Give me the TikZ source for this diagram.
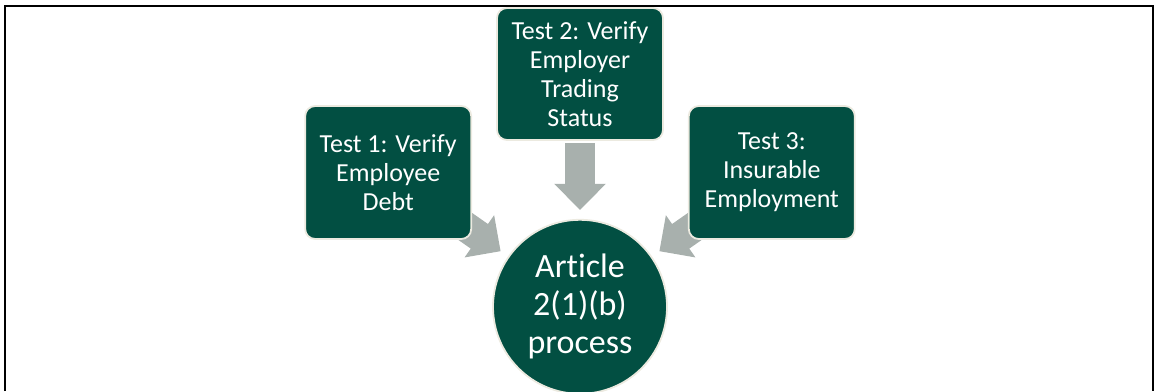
\documentclass[tikz,border=0pt]{standalone}
\usepackage{fontspec}
\setmainfont{Carlito}[Ligatures=NoCommon]
\usetikzlibrary{arrows.meta,positioning,backgrounds}
\definecolor{testgreen}{RGB}{2,79,66}
\definecolor{rimbeige}{RGB}{236,234,224}
\definecolor{flowgray}{RGB}{168,176,173}

\begin{document}
\begin{tikzpicture}[
    x=1pt, y=-1pt,
    testbox/.style={
      rectangle, rounded corners=10pt, fill=testgreen, draw=rimbeige,
      line width=1.8pt, minimum width=166pt, minimum height=133pt,
      align=center, text=white, font=\fontsize{26}{29}\selectfont,
      inner sep=2pt
    },
    hubcircle/.style={
      circle, fill=testgreen, draw=rimbeige, line width=1.8pt,
      minimum size=174pt, align=center, text=white,
      font=\fontsize{34}{38}\selectfont, inner sep=0pt
    },
    blockarr/.style={
      -{Triangle[length=26pt,width=50pt]}, line width=30pt,
      color=flowgray
    },
    frame/.style={line width=2pt, black},
  ]
  \useasboundingbox (0,0) rectangle (1155,391);

  % Outer frame
  \draw[frame] (5,391) |- (1153,6) -- (1153,391);

  % --- Tests ---
  \node[testbox, minimum height=132pt] (test2) at (580,74)
    {Test 2: Verify\\Employer\\Trading\\Status};
  \node[testbox, below left=98pt and 24pt of test2.north west,
        anchor=north east] (test1)
    {Test 1: Verify\\Employee\\Debt};
  \node[testbox, below right=98pt and 24pt of test2.north east,
        anchor=north west] (test3)
    {Test 3:\\Insurable\\Employment};

  % --- Hub ---
  \node[hubcircle, below=78pt of test2] (article)
    {Article\\2(1)(b)\\process};

  % Block arrows into the hub
  \begin{scope}[on background layer]
    \draw[blockarr, shorten <=2pt, shorten >=9pt] (test2) -- (article);
    \draw[blockarr, shorten >=9pt] (test1.center) -- (article);
    \draw[blockarr, shorten >=9pt] (test3.center) -- (article);
  \end{scope}

\end{tikzpicture}
\end{document}
